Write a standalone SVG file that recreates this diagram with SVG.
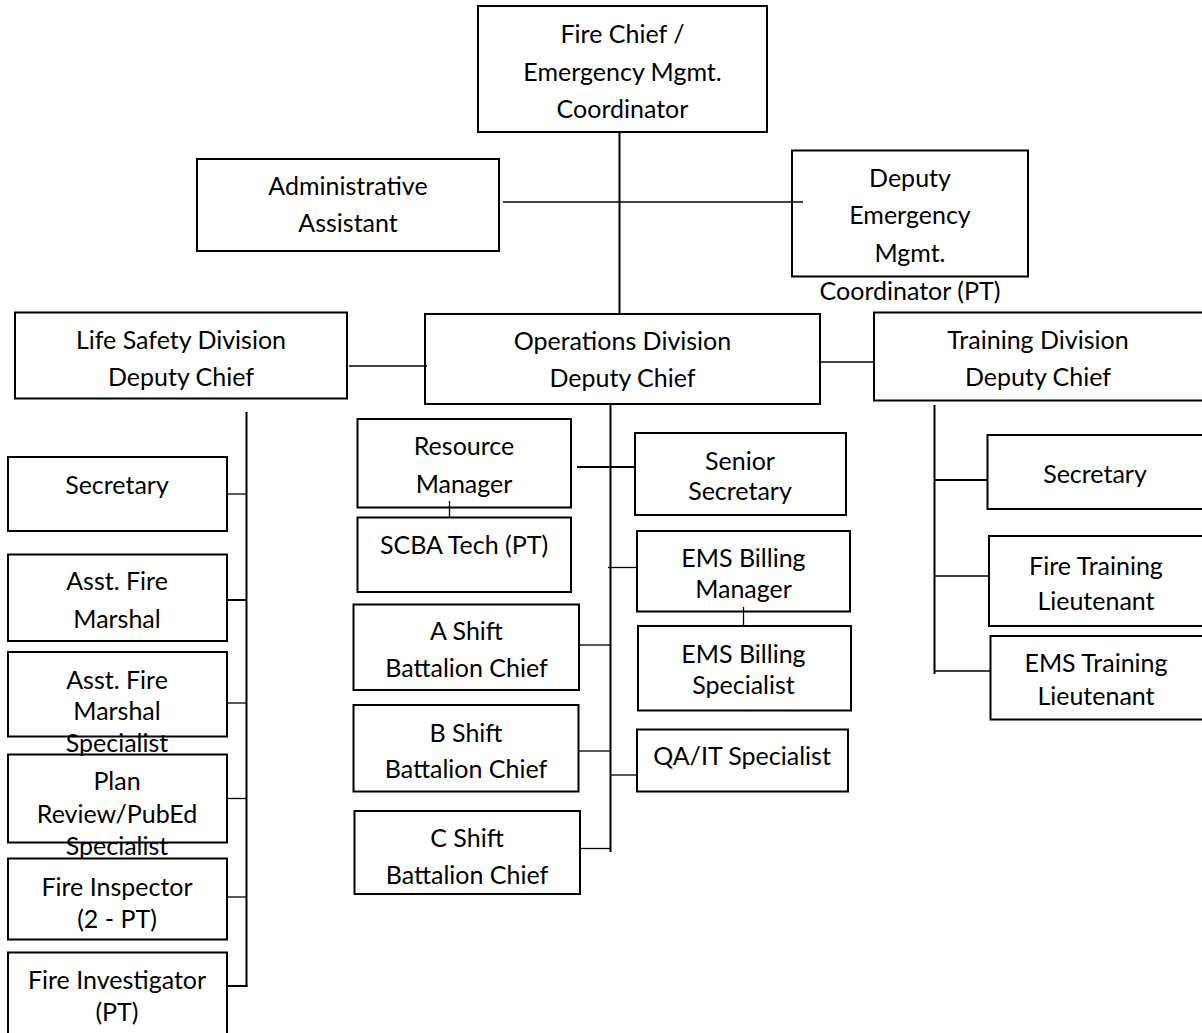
<svg xmlns="http://www.w3.org/2000/svg" width="1202" height="1033" viewBox="0 0 1202 1033">
<style>
rect{fill:none;stroke:#000;stroke-width:2}
text{font-family:Lato,"Open Sans","Liberation Sans",sans-serif;font-size:25px;fill:#000;text-anchor:middle}
.c line{stroke:#000;stroke-width:1.3}
.c line.t{stroke-width:2}
</style>
<rect x="0" y="0" width="1202" height="1033" style="stroke:none;fill:#fff"/>
<g class="c" id="connectors">
<line x1="619.5" y1="132" x2="619.5" y2="314" class="t"/>
<line x1="503" y1="202" x2="803" y2="202"/>
<line x1="349" y1="366" x2="427" y2="366"/>
<line x1="820" y1="362" x2="874" y2="362"/>
<line x1="246.5" y1="412" x2="246.5" y2="987" class="t"/>
<line x1="227" y1="494" x2="246.5" y2="494"/>
<line x1="227" y1="600" x2="246.5" y2="600" class="t"/>
<line x1="227" y1="703" x2="246.5" y2="703"/>
<line x1="227" y1="798.5" x2="246.5" y2="798.5"/>
<line x1="227" y1="897" x2="246.5" y2="897"/>
<line x1="227" y1="986" x2="247.5" y2="986" class="t"/>
<line x1="610.5" y1="404" x2="610.5" y2="852" class="t"/>
<line x1="577" y1="467" x2="635" y2="467" class="t"/>
<line x1="449.5" y1="501" x2="449.5" y2="517"/>
<line x1="608" y1="567.5" x2="637" y2="567.5"/>
<line x1="743.5" y1="607" x2="743.5" y2="626"/>
<line x1="579" y1="645" x2="610.5" y2="645"/>
<line x1="579" y1="751" x2="610.5" y2="751"/>
<line x1="610.5" y1="775" x2="637" y2="775"/>
<line x1="580" y1="848.5" x2="610.5" y2="848.5"/>
<line x1="934.5" y1="405" x2="934.5" y2="674" class="t"/>
<line x1="934.5" y1="480" x2="987" y2="480" class="t"/>
<line x1="934.5" y1="576" x2="989" y2="576"/>
<line x1="934.5" y1="671" x2="991" y2="671"/>
</g>
<g id="fire-chief"><rect x="478" y="6" width="289" height="126"/><text x="622.5" y="42.5">Fire Chief /</text><text x="622.5" y="80.5">Emergency Mgmt.</text><text x="622.5" y="117.5">Coordinator</text></g>
<g id="admin-assistant"><rect x="197" y="159" width="302" height="92"/><text x="348" y="194.5">Administrative</text><text x="348" y="232">Assistant</text></g>
<g id="deputy-emc"><rect x="792" y="150.5" width="236" height="126"/><text x="910" y="186.5">Deputy</text><text x="910" y="224">Emergency</text><text x="910" y="261.5">Mgmt.</text><text x="910" y="299.5">Coordinator (PT)</text></g>
<g id="life-safety"><rect x="15" y="312.5" width="332" height="86"/><text x="181" y="348.5">Life Safety Division</text><text x="181" y="386">Deputy Chief</text></g>
<g id="operations"><rect x="425" y="314" width="395" height="90"/><text x="622.5" y="350">Operations Division</text><text x="622.5" y="387">Deputy Chief</text></g>
<g id="training"><rect x="874" y="312.5" width="332" height="88"/><text x="1038" y="348.5">Training Division</text><text x="1038" y="386">Deputy Chief</text></g>
<g id="ls-secretary"><rect x="8" y="457" width="219" height="74"/><text x="117" y="493.5">Secretary</text></g>
<g id="asst-fire-marshal"><rect x="8" y="554.5" width="219" height="86.5"/><text x="117" y="590">Asst. Fire</text><text x="117" y="627.5">Marshal</text></g>
<g id="asst-fire-marshal-specialist"><rect x="8" y="652" width="219" height="84.5"/><text x="117" y="688.5">Asst. Fire</text><text x="117" y="720">Marshal</text><text x="117" y="751.5">Specialist</text></g>
<g id="plan-review"><rect x="8" y="754.5" width="219" height="88"/><text x="117" y="790">Plan</text><text x="117" y="823">Review/PubEd</text><text x="117" y="855">Specialist</text></g>
<g id="fire-inspector"><rect x="8" y="858.5" width="219" height="81"/><text x="117" y="896">Fire Inspector</text><text x="117" y="928">(2 - PT)</text></g>
<g id="fire-investigator"><rect x="8" y="952.5" width="219" height="90"/><text x="117" y="988.5">Fire Investigator</text><text x="117" y="1020.5">(PT)</text></g>
<g id="resource-manager"><rect x="357.5" y="419" width="213.5" height="88.5"/><text x="464" y="455">Resource</text><text x="464" y="492.5">Manager</text></g>
<g id="scba-tech"><rect x="357.5" y="517.5" width="213.5" height="74.5"/><text x="464" y="554">SCBA Tech (PT)</text></g>
<g id="senior-secretary"><rect x="635" y="433" width="211" height="82"/><text x="740" y="469.5">Senior</text><text x="740" y="500">Secretary</text></g>
<g id="ems-billing-manager"><rect x="637" y="531" width="213" height="80.5"/><text x="743.5" y="566.5">EMS Billing</text><text x="743.5" y="598">Manager</text></g>
<g id="ems-billing-specialist"><rect x="638" y="626" width="213" height="84.5"/><text x="743.5" y="663">EMS Billing</text><text x="743.5" y="693.5">Specialist</text></g>
<g id="a-shift"><rect x="353.5" y="604.5" width="225.5" height="85.5"/><text x="466.5" y="640">A Shift</text><text x="466.5" y="676.5">Battalion Chief</text></g>
<g id="b-shift"><rect x="353.5" y="705" width="225" height="86.5"/><text x="466" y="741.5">B Shift</text><text x="466" y="778">Battalion Chief</text></g>
<g id="qa-it"><rect x="637" y="729.5" width="211" height="62"/><text x="742" y="765">QA/IT Specialist</text></g>
<g id="c-shift"><rect x="354.5" y="811" width="225.5" height="83"/><text x="467" y="847">C Shift</text><text x="467" y="883.5">Battalion Chief</text></g>
<g id="tr-secretary"><rect x="987.5" y="435" width="220" height="74"/><text x="1095" y="482.5">Secretary</text></g>
<g id="fire-training-lt"><rect x="989" y="536" width="220" height="90"/><text x="1096" y="575">Fire Training</text><text x="1096" y="609.5">Lieutenant</text></g>
<g id="ems-training-lt"><rect x="990.5" y="636" width="220" height="83.5"/><text x="1096" y="671.5">EMS Training</text><text x="1096" y="705">Lieutenant</text></g>
</svg>
